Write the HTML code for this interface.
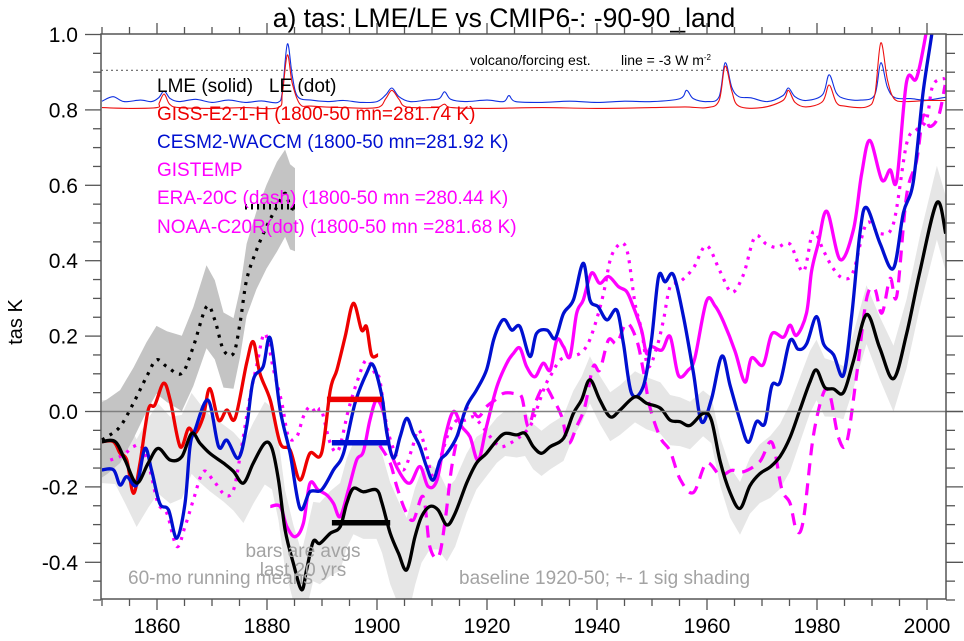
<!DOCTYPE html>
<html><head><meta charset="utf-8">
<style>
html,body{margin:0;padding:0;background:#fff;}
svg{display:block;font-family:"Liberation Sans",Arial,sans-serif;}
</style></head>
<body>
<svg id="chart" width="964" height="641" viewBox="0 0 964 641" xmlns="http://www.w3.org/2000/svg">
  <defs><clipPath id="clip"><rect x="101" y="34" width="845" height="565"/></clipPath></defs>
  <text x="504" y="27" font-size="26.5" text-anchor="middle" fill="#000">a) tas: LME/LE vs CMIP6-: -90-90_land</text>
  <text x="0" y="0" font-size="20" text-anchor="middle" transform="translate(22,322) rotate(-90)">tas K</text>
  <g id="bands" clip-path="url(#clip)"></g>
  <g id="lines" clip-path="url(#clip)"></g>
  <g id="axes"></g>
  <g font-size="19" style="white-space:pre">
    <text x="157" y="92" fill="#000" xml:space="preserve">LME (solid)   LE (dot)</text>
    <text x="157" y="120" fill="#ee0000">GISS-E2-1-H (1800-50 mn=281.74 K)</text>
    <text x="157" y="148" fill="#0010d0">CESM2-WACCM (1800-50 mn=281.92 K)</text>
    <text x="157" y="176" fill="#ff00ff">GISTEMP</text>
    <text x="157" y="204" fill="#ff00ff">ERA-20C (dash) (1800-50 mn =280.44 K)</text>
    <text x="157" y="233" fill="#ff00ff">NOAA-C20R(dot) (1800-50 mn =281.68 K)</text>
  </g>
  <text x="470" y="65" font-size="14" fill="#000">volcano/forcing est.</text>
  <text x="621" y="65" font-size="14" fill="#000">line = -3 W m<tspan font-size="8" dy="-5">-2</tspan></text>
  <g font-size="19" fill="#a3a3a3">
    <text x="303" y="557" text-anchor="middle">bars are avgs</text>
    <text x="303" y="576" text-anchor="middle">last 20 yrs</text>
    <text x="128" y="584">60-mo running means</text>
    <text x="459" y="584">baseline 1920-50; +- 1 sig shading</text>
  </g>
</svg>
<script>
// ---- data ----
const lmeYears=[1850,1852.4,1854.2,1856.3,1858.4,1860.2,1862.4,1864.5,1866.3,1867.8,1869.6,1872.1,1873.9,1875.7,1877.5,1879.6,1880.9,1882.1,1883.3,1884.8,1886.3,1887.2,1888.4,1889.6,1891.5,1893.3,1894.5,1895.7,1897.5,1899.9,1900.9,1902.4,1903.9,1905.4,1906.9,1908.1,1909.6,1911.1,1912.7,1914.2,1916.3,1918.1,1919.9,1921.8,1923.3,1925.4,1926.9,1928.4,1929.9,1931.5,1933.9,1935.7,1937.2,1938.7,1940.5,1942.4,1944.2,1946.9,1949.0,1951.5,1953.3,1955.1,1956.9,1959.3,1960.8,1962.4,1964.2,1966.0,1967.8,1969.6,1971.5,1973.3,1975.1,1976.9,1978.7,1979.9,1981.4,1983.0,1984.8,1986.6,1989.0,1991.4,1993.9,1996.3,1998.7,2001.8,2003.4];
const lmeValues=[-0.080,-0.080,-0.129,-0.190,-0.137,-0.098,-0.129,-0.120,-0.058,-0.084,-0.111,-0.137,-0.159,-0.190,-0.137,-0.084,-0.098,-0.182,-0.314,-0.403,-0.473,-0.420,-0.345,-0.350,-0.323,-0.306,-0.243,-0.204,-0.213,-0.208,-0.243,-0.323,-0.376,-0.420,-0.332,-0.279,-0.252,-0.261,-0.301,-0.270,-0.190,-0.137,-0.111,-0.076,-0.058,-0.062,-0.058,-0.093,-0.111,-0.093,-0.071,-0.005,0.031,0.084,0.031,-0.014,0.004,0.039,0.022,0.009,-0.023,-0.027,-0.037,-0.005,-0.023,-0.133,-0.215,-0.257,-0.197,-0.165,-0.147,-0.119,-0.069,0.005,0.078,0.110,0.064,0.060,0.050,0.133,0.257,0.169,0.087,0.206,0.371,0.554,0.472];
const lmeSdYears=[1850,1860,1870,1880,1886,1895,1905,1912,1920,1935,1950,1960,1966,1975,1985,1995,2003.4];
const lmeSd=[0.11,0.12,0.10,0.11,0.10,0.12,0.14,0.10,0.06,0.06,0.07,0.06,0.07,0.09,0.07,0.09,0.10];

const leYears=[1850,1850.9,1853.3,1855.7,1858.1,1859.9,1861.8,1864.5,1866.6,1869.0,1870.5,1872.1,1873.9,1875.1,1876.3,1878.1,1879.9,1881.8,1883.3,1884.2,1885.1];
const leValues=[-0.075,-0.067,-0.040,0.022,0.092,0.137,0.119,0.101,0.172,0.278,0.243,0.163,0.154,0.234,0.349,0.428,0.490,0.543,0.579,0.543,0.535];
const leSdYears=[1850,1860,1869,1875,1882,1885.1];
const leSd=[0.10,0.09,0.11,0.09,0.12,0.11];

const gissYears=[1850,1852.1,1853.3,1854.5,1855.7,1856.9,1858.4,1859.6,1861.2,1862.4,1864.2,1865.7,1866.9,1868.4,1869.6,1871.2,1872.7,1874.2,1876.3,1877.5,1878.7,1880.6,1882.4,1884.2,1886.0,1887.8,1889.9,1891.5,1892.7,1894.2,1895.7,1897.2,1898.1,1899.0,1900.2];
const gissValues=[-0.080,-0.080,-0.111,-0.129,-0.217,-0.137,0.004,0.017,0.075,0.030,-0.093,-0.045,-0.058,-0.014,0.061,-0.023,0.004,-0.018,0.128,0.185,0.101,0.030,-0.084,-0.102,-0.182,-0.111,-0.111,0.057,0.110,0.198,0.287,0.216,0.225,0.150,0.150];

const cesmYears=[1850,1852.1,1853.3,1854.5,1856.3,1857.8,1859.0,1860.5,1862.1,1863.6,1865.1,1866.0,1866.9,1869.3,1871.2,1872.7,1874.8,1876.3,1877.5,1879.3,1880.6,1882.4,1884.2,1886.0,1887.8,1889.9,1892.1,1893.9,1896.0,1898.1,1899.3,1900.9,1901.8,1903.0,1904.2,1905.4,1906.6,1907.8,1909.0,1910.2,1911.5,1912.7,1914.5,1916.3,1918.1,1919.9,1921.2,1922.4,1923.3,1924.5,1926.0,1927.8,1929.0,1930.9,1932.4,1933.9,1935.7,1937.5,1938.7,1940.2,1941.8,1943.6,1944.8,1946.3,1948.4,1949.9,1951.2,1952.4,1953.9,1955.7,1957.5,1959.0,1960.8,1962.7,1964.2,1966.0,1967.5,1969.0,1970.5,1971.8,1973.3,1975.1,1976.6,1978.1,1979.9,1981.2,1983.0,1984.8,1986.3,1987.8,1989.0,1991.5,1993.9,1995.7,1997.5,1999.3,2000.8,2001.6];
const cesmValues=[-0.155,-0.155,-0.195,-0.173,-0.195,-0.098,-0.155,-0.244,-0.261,-0.336,-0.244,-0.093,-0.049,0.030,-0.093,-0.076,-0.124,-0.040,0.084,0.119,0.194,0.004,-0.111,-0.257,-0.213,-0.208,-0.155,-0.111,0.022,0.101,0.123,0.039,-0.058,-0.124,-0.067,-0.018,-0.058,-0.093,-0.146,-0.182,-0.129,-0.111,-0.067,0.013,0.057,0.110,0.190,0.234,0.243,0.216,0.225,0.146,0.207,0.216,0.194,0.260,0.296,0.393,0.296,0.278,0.243,0.269,0.181,0.048,0.066,0.190,0.358,0.344,0.362,0.252,0.105,-0.027,0.032,0.147,0.069,-0.023,-0.082,-0.027,-0.032,0.069,0.078,0.188,0.165,0.179,0.252,0.179,0.151,0.096,0.252,0.472,0.541,0.444,0.380,0.527,0.609,0.847,0.994,1.08];

const gistempYears=[1880.6,1882.4,1883.6,1885.1,1886.6,1887.8,1889.3,1890.9,1892.1,1893.3,1894.8,1896.3,1897.5,1898.7,1899.9,1901.2,1902.4,1904.2,1906.0,1907.8,1909.3,1910.9,1912.4,1913.9,1915.4,1916.9,1918.4,1919.9,1921.8,1923.6,1924.8,1926.0,1927.2,1928.7,1930.2,1931.5,1932.7,1933.9,1935.1,1936.3,1937.5,1939.0,1940.5,1942.1,1943.9,1945.4,1946.6,1948.1,1949.0,1949.9,1951.8,1953.3,1954.8,1956.6,1957.8,1959.9,1961.5,1963.0,1965.1,1966.9,1968.1,1970.2,1971.8,1973.9,1975.1,1976.3,1978.1,1979.0,1980.2,1981.8,1984.2,1986.6,1988.1,1989.6,1991.8,1993.3,1994.5,1996.3,1998.1,1999.9,2001];
const gistempValues=[-0.252,-0.252,-0.305,-0.332,-0.297,-0.191,-0.208,-0.222,-0.244,-0.279,-0.208,-0.129,-0.107,-0.023,0.030,-0.005,-0.102,-0.164,-0.190,-0.146,-0.199,-0.182,-0.067,0.000,-0.040,-0.067,-0.129,-0.040,0.066,0.128,0.154,0.168,0.119,0.092,0.128,0.110,0.190,0.172,0.146,0.260,0.296,0.367,0.340,0.358,0.331,0.318,0.278,0.216,0.154,0.172,0.163,0.199,0.096,0.110,0.142,0.293,0.279,0.238,0.160,0.078,0.142,0.124,0.206,0.197,0.229,0.202,0.261,0.371,0.444,0.531,0.403,0.481,0.628,0.719,0.614,0.641,0.614,0.875,0.884,1.01,1.12];

const eraYears=[1900.5,1902.4,1903.6,1905.1,1906.6,1908.4,1909.6,1911.2,1912.4,1913.6,1915.1,1916.6,1918.4,1919.9,1921.5,1923.0,1924.8,1926.3,1927.5,1929.0,1930.5,1932.1,1933.6,1934.8,1936.3,1937.8,1939.3,1940.5,1942.1,1943.6,1945.4,1947.2,1948.4,1949.6,1951.5,1953.3,1955.1,1957.5,1959.9,1962.4,1964.5,1966.6,1969.6,1971.8,1973.6,1975.1,1976.3,1977.5,1979.3,1981.2,1982.4,1983.9,1985.4,1987.2,1989.0,1990.5,1991.8,1993.3,1994.5,1996.3,1998.1,1999.3,2000.5,2002.1,2003.3];
const eraValues=[-0.090,-0.137,-0.199,-0.261,-0.288,-0.226,-0.358,-0.385,-0.288,-0.146,-0.040,0.013,-0.014,0.013,0.031,0.048,0.048,0.039,-0.040,0.031,0.066,0.031,-0.014,-0.084,-0.040,0.013,0.119,0.110,0.190,0.181,0.234,0.190,0.110,0.013,-0.069,-0.105,-0.179,-0.215,-0.137,-0.169,-0.156,-0.160,-0.133,-0.082,-0.206,-0.243,-0.316,-0.289,-0.069,0.050,0.041,-0.069,-0.082,0.096,0.298,0.325,0.261,0.353,0.307,0.573,0.664,0.783,0.756,0.783,0.866];

const noaaYears=[1851.5,1853.9,1855.7,1857.2,1858.7,1860.2,1861.8,1863.6,1865.1,1866.6,1868.4,1870.2,1872.4,1873.9,1875.1,1876.9,1878.1,1879.6,1881.2,1882.7,1883.9,1885.4,1886.6,1887.8,1889.0,1889.9,1891.5,1893.0,1894.8,1896.3,1898.1,1899.9,1900.5,1901.8,1903.3,1904.8,1906.3,1907.5,1908.7,1910.2,1911.8,1913.0,1914.5,1916.0,1917.5,1918.7,1920.6,1922.4,1924.2,1926.0,1927.8,1929.0,1930.5,1931.8,1933.3,1935.1,1936.9,1938.4,1939.9,1941.2,1942.4,1943.6,1944.8,1945.7,1946.9,1948.1,1949.3,1950.9,1952.1,1953.3,1955.1,1957.5,1959.9,1962.4,1964.5,1966.6,1968.7,1970.8,1972.7,1975.1,1977.5,1979.3,1981.2,1982.9,1984.8,1986.6,1989.0,1991.4,1993.9,1996.3,1998.1,1999.9,2001.1,2003.3];
const noaaValues=[-0.129,-0.115,-0.093,-0.093,-0.155,-0.244,-0.270,-0.358,-0.305,-0.235,-0.160,-0.182,-0.222,-0.208,-0.120,0.039,0.119,0.207,0.110,0.022,-0.067,-0.067,-0.014,0.013,-0.005,0.004,-0.084,-0.102,0.004,0.075,0.137,0.092,0.084,-0.040,-0.111,-0.155,-0.102,-0.049,-0.093,-0.173,-0.111,-0.058,-0.023,-0.023,-0.014,-0.031,-0.067,-0.093,-0.084,-0.067,-0.040,0.004,0.066,0.101,0.137,0.146,0.154,0.181,0.243,0.314,0.402,0.437,0.446,0.411,0.287,0.216,0.119,0.172,0.243,0.331,0.344,0.380,0.440,0.371,0.316,0.362,0.463,0.444,0.435,0.444,0.371,0.476,0.426,0.380,0.353,0.371,0.499,0.472,0.499,0.710,0.747,0.774,0.866,0.884];

// 20-yr average bars
const barStart=[1890.9,1891.8,1891.8];
const barEnd=[1900.9,1902.4,1902.4];
const barValues=[0.032,-0.083,-0.295];
const barColors=["#ee0000","#0010d0","#000000"];
const barNames=["giss-avg-bar","cesm2-avg-bar","lme-avg-bar"];
const leBarStart=1876, leBarEnd=1885.2, leBarValue=0.543;

// volcanic forcing estimate traces
const forcBlueYears=[1850,1852,1854,1857,1859,1860.3,1861.3,1862.4,1864,1867,1870,1873,1876,1879,1882,1882.8,1883.7,1884.6,1885.6,1888,1891,1894,1897,1900,1901.6,1902.7,1904.0,1906,1909,1911.3,1912.3,1913.4,1916,1920,1923.0,1924,1925.2,1930,1935,1940,1945,1950,1955.1,1956.3,1957.5,1960,1962.2,1963.3,1964.5,1965.8,1968,1971,1973.8,1974.8,1976.0,1978,1981.0,1982.2,1983.5,1985,1988,1990.5,1991.6,1992.8,1994.2,1997,2000,2003.5];
const forcBlueValues=[0.823,0.835,0.822,0.826,0.822,0.832,0.850,0.830,0.822,0.828,0.820,0.826,0.820,0.824,0.820,0.850,0.975,0.890,0.835,0.826,0.822,0.825,0.820,0.822,0.840,0.858,0.835,0.822,0.826,0.830,0.848,0.828,0.822,0.826,0.822,0.838,0.822,0.820,0.823,0.820,0.823,0.822,0.830,0.852,0.830,0.822,0.835,0.925,0.860,0.835,0.832,0.822,0.838,0.858,0.835,0.825,0.840,0.893,0.845,0.830,0.826,0.840,0.925,0.860,0.832,0.830,0.826,0.834];
const forcRedYears=[1850,1855,1860,1860.4,1861.3,1862.3,1864,1870,1876,1882,1882.8,1883.7,1884.6,1886.0,1888,1894,1900,1901.6,1902.7,1904.0,1905.3,1910,1911.3,1912.3,1913.6,1920,1930,1940,1950,1956,1960,1962.2,1963.3,1964.5,1965.8,1970,1973.8,1974.8,1976.0,1978,1981.0,1982.2,1983.5,1985,1989,1990.5,1991.6,1992.8,1994.0,1996,2000,2003.5];
const forcRedValues=[0.806,0.804,0.806,0.818,0.842,0.815,0.806,0.804,0.806,0.806,0.845,0.946,0.870,0.815,0.810,0.806,0.806,0.830,0.852,0.828,0.808,0.806,0.808,0.815,0.806,0.804,0.806,0.804,0.806,0.808,0.806,0.825,0.916,0.850,0.810,0.806,0.825,0.852,0.820,0.808,0.822,0.866,0.820,0.810,0.808,0.840,0.978,0.880,0.830,0.822,0.825,0.825];
const forcingLineValue=0.905;

const yTickLabels=["1.0","0.8","0.6","0.4","0.2","0.0","-0.2","-0.4"];
const yTickValues=[1.0,0.8,0.6,0.4,0.2,0.0,-0.2,-0.4];
const xTickLabels=["1860","1880","1900","1920","1940","1960","1980","2000"];
const xTickValues=[1860,1880,1900,1920,1940,1960,1980,2000];

// ---- scales ----
const X0=101,X1=946,Y0=34,Y1=599;
function xs(yr){return 102+(yr-1850)*5.5;}
function ys(v){return 411.5-v*377;}
const NS="http://www.w3.org/2000/svg";
function mk(tag,attrs,parent){const e=document.createElementNS(NS,tag);for(const k in attrs)e.setAttribute(k,attrs[k]);parent.appendChild(e);return e;}
function interp(xa,ya,x){if(x<=xa[0])return ya[0];for(let i=1;i<xa.length;i++){if(x<=xa[i]){const t=(x-xa[i-1])/(xa[i]-xa[i-1]);return ya[i-1]+t*(ya[i]-ya[i-1]);}}return ya[ya.length-1];}
function smoothPath(P){
  let d="M"+P[0][0].toFixed(1)+","+P[0][1].toFixed(1);
  for(let i=0;i<P.length-1;i++){
    const p0=P[i-1]||P[i],p1=P[i],p2=P[i+1],p3=P[i+2]||p2;
    const c1=[p1[0]+(p2[0]-p0[0])/6,p1[1]+(p2[1]-p0[1])/6];
    const c2=[p2[0]-(p3[0]-p1[0])/6,p2[1]-(p3[1]-p1[1])/6];
    d+=" C"+c1[0].toFixed(1)+","+c1[1].toFixed(1)+" "+c2[0].toFixed(1)+","+c2[1].toFixed(1)+" "+p2[0].toFixed(1)+","+p2[1].toFixed(1);
  }
  return d;
}

const bands=document.getElementById("bands"), lines=document.getElementById("lines"), axes=document.getElementById("axes");

function band(yrs,vals,sdY,sd,fill,name){
  const up=yrs.map((y,i)=>xs(y).toFixed(1)+","+ys(vals[i]+interp(sdY,sd,y)).toFixed(1));
  const lo=yrs.map((y,i)=>xs(y).toFixed(1)+","+ys(vals[i]-interp(sdY,sd,y)).toFixed(1)).reverse();
  const p=mk("polygon",{points:up.concat(lo).join(" "),fill:fill,stroke:"none","stroke-linejoin":"round"},bands);
  
  
}
band(lmeYears,lmeValues,lmeSdYears,lmeSd,"#e6e6e6","lme-shading");
band(leYears,leValues,leSdYears,leSd,"#c4c4c4","le-shading");

const zl=mk("line",{x1:X0,x2:963,y1:ys(0),y2:ys(0),stroke:"#808080","stroke-width":1.5},axes);


const fl=mk("line",{x1:X0,x2:X1,y1:ys(forcingLineValue),y2:ys(forcingLineValue),stroke:"#666","stroke-width":1.2,"stroke-dasharray":"2 3"},lines);



function line(yrs,vals,color,w,dash,name){
  const P=yrs.map((y,i)=>[xs(y),ys(vals[i])]);
  const a={d:smoothPath(P),fill:"none",stroke:color,"stroke-width":w,"stroke-linejoin":"round"};
  if(dash){a["stroke-dasharray"]=dash;}
  const p=mk("path",a,lines);
  
  
}
line(forcBlueYears,forcBlueValues,"#1030e0",1.1,null,"forcing-cesm2");
line(forcRedYears,forcRedValues,"#ee1010",1.1,null,"forcing-giss");
line(eraYears,eraValues,"#ff00ff",3.2,"12 8","era20c-line");
line(noaaYears,noaaValues,"#ff00ff",3.2,"3 6","noaa-c20r-line");
line(gistempYears,gistempValues,"#ff00ff",3.3,null,"gistemp-line");
line(gissYears,gissValues,"#ee0000",3.3,null,"giss-line");
line(cesmYears,cesmValues,"#0010d0",3.3,null,"cesm2-line");
line(leYears,leValues,"#000",3.2,"3 6","le-line");
line(lmeYears,lmeValues,"#000",3.3,null,"lme-line");

for(let i=0;i<barValues.length;i++){
  const b=mk("line",{x1:xs(barStart[i]),x2:xs(barEnd[i]),y1:ys(barValues[i]),y2:ys(barValues[i]),stroke:barColors[i],"stroke-width":5.5},lines);
  
  
}
const lb=mk("line",{x1:xs(leBarStart),x2:xs(leBarEnd),y1:ys(leBarValue),y2:ys(leBarValue),stroke:"#000","stroke-width":5.5,"stroke-dasharray":"2 4"},lines);



const fr=mk("rect",{x:X0,y:Y0,width:X1-X0,height:Y1-Y0,fill:"none",stroke:"#555","stroke-width":1.5},axes);



for(let v=-0.5;v<=1.0001;v+=0.05){
  const major=Math.abs(Math.round(v*5)-v*5)<1e-6;
  const y=ys(v);
  const tl=mk("line",{x1:X0-(major?16:8),x2:X0,y1:y,y2:y,stroke:"#555","stroke-width":1.3},axes);
  
  
  const tr=mk("line",{x1:X1,x2:X1+(major?17:9),y1:y,y2:y,stroke:"#555","stroke-width":1.3},axes);
  
  
}
for(let yr=1850;yr<=2003;yr+=5){
  const major=yr%20===0;
  const x=xs(yr);
  const tb=mk("line",{x1:x,x2:x,y1:Y1,y2:Y1+(major?11:7),stroke:"#555","stroke-width":1.3},axes);
  
  
  const tt=mk("line",{x1:x,x2:x,y1:Y0,y2:Y0-(major?11:7),stroke:"#555","stroke-width":1.3},axes);
  
  
}
yTickLabels.forEach((lab,i)=>{
  const t=mk("text",{x:78,y:ys(yTickValues[i])+7.5,"font-size":21,"text-anchor":"end",fill:"#000"},axes);
  t.textContent=lab;
  
  
});
xTickLabels.forEach((lab,i)=>{
  const t=mk("text",{x:xs(xTickValues[i]),y:633,"font-size":21,"text-anchor":"middle",fill:"#000"},axes);
  t.textContent=lab;
  
  
});
</script>
</body></html>
